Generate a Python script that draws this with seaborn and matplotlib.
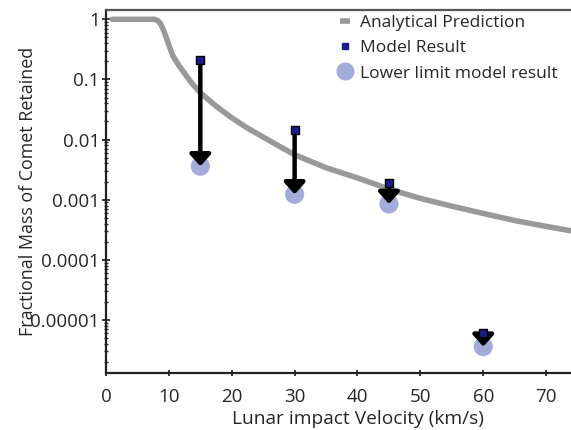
import numpy as np
import pandas as pd
import seaborn as sns
import matplotlib.pyplot as plt
from matplotlib.lines import Line2D
from matplotlib.ticker import FixedLocator, FixedFormatter, LogLocator, NullFormatter

# analytical curve
curve_v = [1, 7.7, 8.2, 8.7, 9.2, 9.7, 10.6, 11.6, 12.7, 13.7, 15, 17.5, 20, 22.5, 25,
           27.5, 30, 35, 40, 45, 50, 55, 60, 65, 70, 75, 80]
curve_m = [1, 1, 0.96, 0.84, 0.64, 0.46, 0.25, 0.17, 0.118, 0.085, 0.060, 0.036, 0.023,
           0.0155, 0.011, 0.0078, 0.0056, 0.0034, 0.0023, 0.0015, 0.00105, 0.00078,
           0.00059, 0.00045, 0.00036, 0.00029, 0.00024]

# model results and lower limits
model_v = [15, 30, 45, 60]
model_m = [0.21, 0.0143, 0.0019, 0.000006]
lower_m = [0.0036, 0.00123, 0.00085, 0.0000036]

ytick_vals = [1, 0.1, 0.01, 0.001, 0.0001, 0.00001]
ytick_labels = ['1', '0.1', '0.01', '0.001', '0.0001', '0.00001']

curve = pd.DataFrame({'v': curve_v, 'm': curve_m})
pts = pd.DataFrame({'v': model_v, 'model': model_m, 'lower': lower_m})

sns.set_style('ticks')
plt.rcParams['font.family'] = ['Open Sans', 'DejaVu Sans']
plt.rcParams['font.size'] = 12

fig = plt.figure(figsize=(5.71, 4.3), dpi=100)
W, H = 571, 430
# axes box in pixels: left 106, right 609 (runs past the edge), top 10, bottom 373
ax = fig.add_axes([106 / W, (H - 373) / H, (609 - 106) / W, (373 - 10) / H])

sns.lineplot(data=curve, x='v', y='m', ax=ax, color='#999999', lw=4, zorder=2,
             legend=False)
sns.scatterplot(data=pts, x='v', y='lower', ax=ax, color='#a3acd8', s=190,
                edgecolor='none', zorder=3, legend=False)
for v, m, lo in zip(model_v, model_m, lower_m):
    ax.annotate('', xy=(v, lo), xytext=(v, m),
                arrowprops=dict(arrowstyle='-|>,head_width=0.45,head_length=0.5',
                                lw=3.2, color='black', mutation_scale=14,
                                shrinkA=0, shrinkB=0), zorder=4)
sns.scatterplot(data=pts, x='v', y='model', ax=ax, color='#1c1c8f', marker='s', s=30,
                edgecolor='black', linewidth=1, zorder=5, legend=False)

ax.set_yscale('log')
ax.set_ylim(10 ** -5.883, 10 ** 0.155)
ax.set_xlim(0, 80)
ax.set_xticks(range(0, 71, 10))
ax.yaxis.set_major_locator(FixedLocator(ytick_vals))
ax.yaxis.set_major_formatter(FixedFormatter(ytick_labels))
ax.yaxis.set_minor_locator(LogLocator(base=10, subs=np.arange(2, 10), numticks=20))
ax.yaxis.set_minor_formatter(NullFormatter())
ax.tick_params(axis='y', which='major', direction='inout', length=6, width=1.3,
               labelsize=13.5, pad=1.5)
ax.tick_params(axis='y', which='minor', direction='inout', length=3, width=1)
ax.tick_params(axis='x', which='major', direction='inout', length=5, width=1.3,
               labelsize=13.5, pad=8)

for s in ax.spines.values():
    s.set_linewidth(1.6)
    s.set_color('#222222')
ax.spines['top'].set_color('#555555')

ax.set_xlabel('Lunar impact Velocity (km/s)', fontsize=13.8, labelpad=3)
ax.set_ylabel('Fractional Mass of Comet Retained', fontsize=12.9)
ax.yaxis.set_label_coords(-0.137, 0.5)

handles = [
    Line2D([], [], color='#999999', lw=4, solid_capstyle='butt'),
    Line2D([], [], ls='none', marker='s', color='#1c1c8f', markersize=5),
    Line2D([], [], ls='none', marker='o', color='#a3acd8', markersize=12),
]
fig.legend(handles, ['Analytical Prediction', 'Model Result', 'Lower limit model result'],
           loc='upper left', bbox_to_anchor=(340 / W, 1 - 15 / H), frameon=False,
           fontsize=12.5, handlelength=0.6, handletextpad=0.55, labelspacing=0.52,
           borderpad=0, borderaxespad=0)

plt.savefig('out.png', dpi=100)
